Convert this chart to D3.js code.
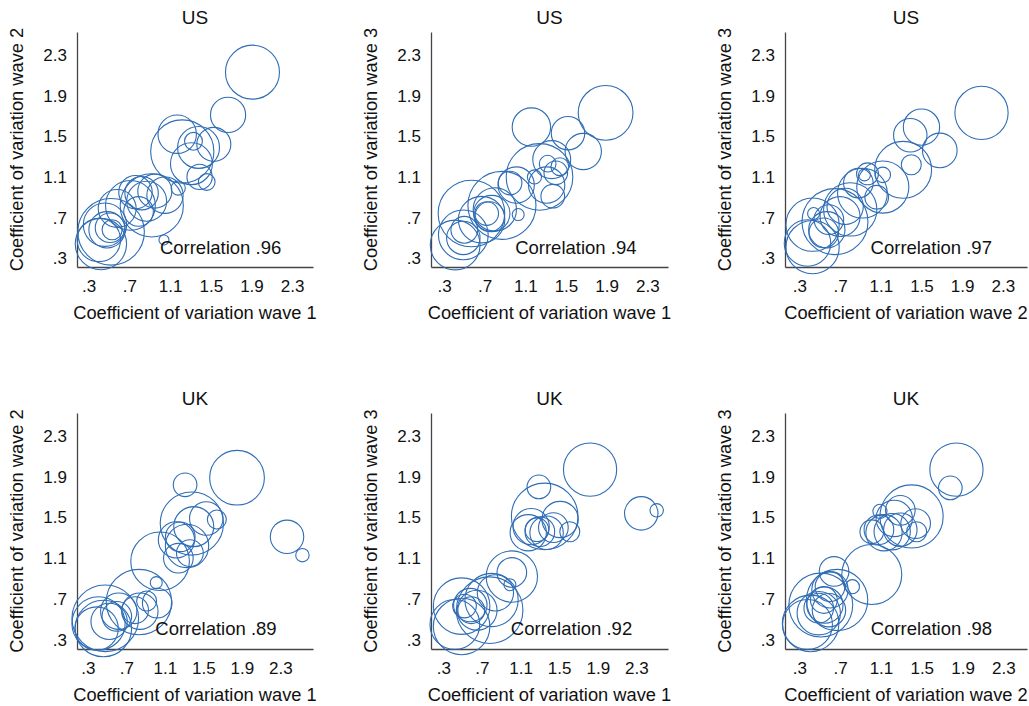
<!DOCTYPE html>
<html>
<head>
<meta charset="utf-8">
<script src="https://cdn.jsdelivr.net/npm/d3@7"></script>
<style>
  body { margin: 0; background: #fff; }
  svg { display: block; }
  text { font-family: "Liberation Sans", Arial, Helvetica, sans-serif; fill: #111; }
</style>
</head>
<body>
<div id="chart"></div>
<script>
// tick values and labels shared by every panel
const tickValues = [0.3, 0.7, 1.1, 1.5, 1.9, 2.3];
const tickLabels = [".3", ".7", "1.1", "1.5", "1.9", "2.3"];

// US, wave 1 vs wave 2
const usW1W2_x = [1.91,1.67,1.17,1.22,1.33,1.38,1.53,1.31,1.39,1.46,1.18,1.05,0.92,0.87,0.82,0.71,0.79,0.52,0.42,0.46,0.51,0.53,0.40,1.04,0.58,0.95,0.76,0.48];
const usW1W2_y = [2.13,1.71,1.52,1.35,1.45,1.39,1.42,1.23,1.10,1.05,0.99,0.92,0.82,0.86,0.94,0.82,0.76,0.56,0.44,0.63,0.60,0.58,0.48,0.48,0.79,0.96,0.95,0.58];
const usW1W2_w = [73,31,37,100,8,44,29,44,16,7,5,33,100,40,28,62,22,111,66,47,22,10,47,2.5,36,29,28,33];

// US, wave 1 vs wave 3
const usW1W3_x = [1.89,1.16,1.52,1.67,1.24,1.36,1.32,1.40,1.19,1.31,1.37,1.01,0.95,0.87,1.03,0.75,0.72,0.77,0.41,0.49,0.49,0.50,0.57,0.67,0.80,1.44];
const usW1W3_y = [1.73,1.59,1.53,1.35,1.10,1.27,1.23,1.14,1.10,1.02,0.91,1.02,1.04,0.82,0.73,0.71,0.74,0.74,0.43,0.53,0.50,0.58,0.74,0.68,0.78,1.20];
const usW1W3_w = [75,37,28,33,111,36,7,14,5,33,14,33,14,116,3.6,22,14,33,62,62,28,18,111,54,47,8];

// US, wave 2 vs wave 3
const usW2W3_x = [2.09,1.50,1.39,1.68,1.32,1.40,1.12,0.97,0.94,0.88,1.06,0.92,0.75,0.80,0.70,0.59,0.44,0.43,0.57,0.54,0.38,0.43,0.65,1.12];
const usW2W3_y = [1.73,1.59,1.51,1.36,1.17,1.22,1.00,1.13,1.12,1.04,0.90,0.94,0.81,0.78,0.71,0.68,0.74,0.63,0.58,0.55,0.45,0.41,0.66,1.12];
const usW2W3_w = [71,33,28,30,81,10,68,12,3.6,22,14,62,33,71,40,22,3.6,71,33,22,54,71,109,6];

// UK, wave 1 vs wave 2
const ukW1W2_x = [1.85,1.31,1.38,1.53,1.64,1.40,1.26,1.22,1.33,1.36,1.24,2.37,2.53,1.05,1.01,1.02,0.91,0.83,0.84,0.79,0.62,0.60,0.48,0.41,0.46,0.39,0.52];
const ukW1W2_y = [1.89,1.82,1.44,1.49,1.48,1.41,1.31,1.28,1.22,1.15,1.10,1.31,1.13,1.07,0.86,0.66,0.68,0.67,0.58,0.59,0.58,0.53,0.51,0.46,0.41,0.41,0.48];
const ukW1W2_w = [75,14,100,28,9,40,22,33,47,18,22,28,4.5,86,3.6,22,10,107,33,18,33,22,111,71,80,47,33];

// UK, wave 1 vs wave 3
const ukW1W3_x = [1.82,1.29,1.35,1.51,1.61,1.21,1.18,1.30,1.37,1.44,1.27,2.35,2.51,1.01,1.01,0.99,0.84,0.80,0.78,0.58,0.59,0.52,0.49,0.42,0.49,0.65];
const ukW1W3_y = [1.97,1.80,1.51,1.48,1.36,1.41,1.35,1.36,1.35,1.40,1.38,1.54,1.57,0.92,0.96,0.84,0.76,0.69,0.59,0.64,0.59,0.63,0.63,0.45,0.43,0.59];
const ukW1W3_w = [71,14,111,33,10,33,33,22,28,22,14,28,4.5,66,22,3.6,33,71,111,28,18,14,80,62,80,40];

// UK, wave 2 vs wave 3
const ukW2W3_x = [1.84,1.78,1.40,1.09,1.29,1.23,1.44,1.45,1.29,1.21,1.01,1.08,1.13,1.01,0.64,0.82,0.60,0.51,0.67,0.55,0.49,0.54,0.60,0.38,0.41,0.49,0.59];
const ukW2W3_y = [1.97,1.79,1.51,1.56,1.57,1.49,1.44,1.36,1.38,1.36,1.36,1.38,1.35,0.94,0.97,0.82,0.82,0.64,0.69,0.64,0.61,0.69,0.79,0.45,0.46,0.56,0.59];
const ukW2W3_w = [71,14,100,5,22,33,22,10,28,33,14,22,33,90,22,5,22,102,94,33,22,18,33,62,80,47,28];

const correlations = [".96", ".94", ".97", ".89", ".92", ".98"];

const panels = [
  {title:"US", xs:usW1W2_x, ys:usW1W2_y, ws:usW1W2_w, xt:"Coefficient of variation wave 1", yt:"Coefficient of variation wave 2", col:0, row:0, xDom:[0.185,2.505]},
  {title:"US", xs:usW1W3_x, ys:usW1W3_y, ws:usW1W3_w, xt:"Coefficient of variation wave 1", yt:"Coefficient of variation wave 3", col:1, row:0, xDom:[0.172,2.504]},
  {title:"US", xs:usW2W3_x, ys:usW2W3_y, ws:usW2W3_w, xt:"Coefficient of variation wave 2", yt:"Coefficient of variation wave 3", col:2, row:0, xDom:[0.159,2.537]},
  {title:"UK", xs:ukW1W2_x, ys:ukW1W2_y, ws:ukW1W2_w, xt:"Coefficient of variation wave 1", yt:"Coefficient of variation wave 2", col:0, row:1, xDom:[0.186,2.64]},
  {title:"UK", xs:ukW1W3_x, ys:ukW1W3_y, ws:ukW1W3_w, xt:"Coefficient of variation wave 1", yt:"Coefficient of variation wave 3", col:1, row:1, xDom:[0.173,2.627]},
  {title:"UK", xs:ukW2W3_x, ys:ukW2W3_y, ws:ukW2W3_w, xt:"Coefficient of variation wave 2", yt:"Coefficient of variation wave 3", col:2, row:1, xDom:[0.159,2.532]}
];

const W = 1029, H = 706;
const colLeft = [77, 431, 785];
const colRight = [313, 668, 1027];
const rowTop = [32, 413];
const rowBottom = [267, 649];
const yDoms = [[0.214, 2.525], [0.209, 2.525]];
const blue = "#2f6db5";
const fontFam = '"Liberation Sans", Arial, Helvetica, sans-serif';

const svg = d3.select("#chart").append("svg")
  .attr("width", W)
  .attr("height", H);

// bubble area proportional to weight
const r = d3.scaleSqrt().domain([0, 100]).range([0, 31.6]);

panels.forEach(function(p, i){
  let left = colLeft[p.col], right = colRight[p.col];
  let top = rowTop[p.row], bottom = rowBottom[p.row];
  let x = d3.scaleLinear().domain(p.xDom).range([left, right]);
  let y = d3.scaleLinear().domain(yDoms[p.row]).range([bottom, top]);

  let g = svg.append("g");

  // y axis
  let ya = g.append("g")
    .attr("transform", "translate(" + left + ",0)")
    .call(d3.axisLeft(y).tickValues(tickValues).tickSize(0).tickSizeOuter(0).tickPadding(10)
      .tickFormat((d, k) => tickLabels[k]));
  ya.attr("font-size", 17).attr("font-family", fontFam);
  ya.select(".domain").attr("stroke", "#444").attr("stroke-width", 1.3);

  // x axis
  let xa = g.append("g")
    .attr("transform", "translate(0," + bottom + ")")
    .call(d3.axisBottom(x).tickValues(tickValues).tickSize(0).tickSizeOuter(0).tickPadding(13)
      .tickFormat((d, k) => tickLabels[k]));
  xa.attr("font-size", 17).attr("font-family", fontFam);
  xa.select(".domain").attr("stroke", "#444").attr("stroke-width", 1.3);
  g.selectAll(".tick text").attr("fill", "#111");

  // bubbles
  let pts = p.xs.map((v, k) => ({x: v, y: p.ys[k], w: p.ws[k]}));
  g.selectAll("circle.bubble")
    .data(pts)
    .enter().append("circle")
    .attr("class", "bubble")
    .attr("cx", d => x(d.x))
    .attr("cy", d => y(d.y))
    .attr("r", d => r(d.w))
    .attr("fill", "none")
    .attr("stroke", blue)
    .attr("stroke-width", 1.1);

  // correlation note
  g.append("text")
    .attr("x", x(1.0))
    .attr("y", y(0.41))
    .attr("dominant-baseline", "central")
    .attr("font-size", 18.5)
    .text("Correlation " + correlations[i]);

  // titles
  g.append("text")
    .attr("x", (left + right) / 2)
    .attr("y", top - 8)
    .attr("text-anchor", "middle")
    .attr("font-size", 19)
    .text(p.title);

  g.append("text")
    .attr("x", (left + right) / 2)
    .attr("y", bottom + 52)
    .attr("text-anchor", "middle")
    .attr("font-size", 18.3)
    .text(p.xt);

  g.append("text")
    .attr("transform", "translate(" + (left - 54) + "," + ((top + bottom) / 2) + ") rotate(-90)")
    .attr("text-anchor", "middle")
    .attr("font-size", 18.3)
    .text(p.yt);
});
</script>
</body>
</html>
